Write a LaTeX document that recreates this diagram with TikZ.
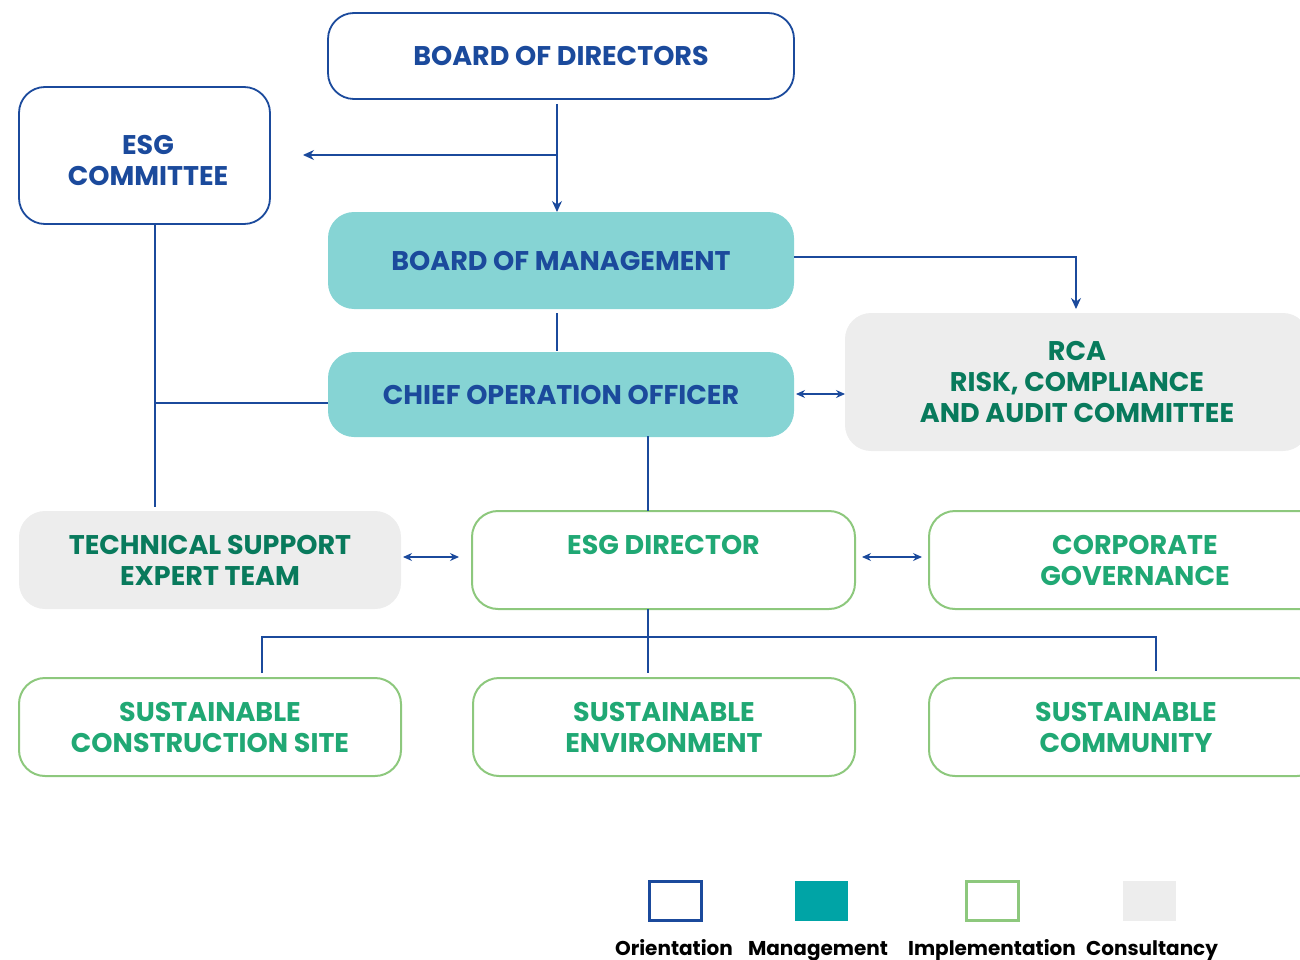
\documentclass[tikz,border=0pt]{standalone}
\usepackage{fontspec}
\setmainfont{Poppins}
\usetikzlibrary{arrows.meta}
\definecolor{dblue}{HTML}{1B4A9C}
\definecolor{tealfill}{HTML}{86D4D4}
\definecolor{greyfill}{HTML}{EDEDED}
\definecolor{dgreen}{HTML}{087A5C}
\definecolor{lgreen}{HTML}{20A874}
\definecolor{gborder}{HTML}{8DC87D}
\definecolor{mgmt}{HTML}{00A4A6}
\tikzset{
  base/.style={rounded corners=26pt, align=center, inner sep=0pt, font=\fontsize{27}{31}\selectfont\bfseries},
  orient/.style={base, draw=dblue, line width=1.8pt, text=dblue},
  manage/.style={base, fill=tealfill, text=dblue},
  consult/.style={base, fill=greyfill, text=dgreen},
  impl/.style={base, draw=gborder, line width=2pt, text=lgreen},
  conn/.style={dblue, line width=1.1pt},
  tip/.style={-{Stealth[length=11pt,width=10pt]}},
  dtip/.style={{Stealth[length=9pt,width=8pt]}-{Stealth[length=9pt,width=8pt]}},
  legtext/.style={font=\fontsize{20}{24}\selectfont\bfseries, text=black, anchor=base, inner sep=0pt}
}
\begin{document}
\begin{tikzpicture}[x=1pt,y=-1pt]
\useasboundingbox (0,0) rectangle (1300,960);
\clip (0,0) rectangle (1300,960);
% boxes
\node[orient, minimum width=466pt, minimum height=86pt] (bod) at (561,56) {BOARD OF DIRECTORS};
\node[orient, minimum width=251pt, minimum height=137pt] (esgc) at (144.5,155.5) {};
\node[base, text=dblue] (esgct) at (148,160) {ESG\\COMMITTEE};
\node[manage, minimum width=466pt, minimum height=97pt] (bom) at (561,260.5) {BOARD OF MANAGEMENT};
\node[manage, minimum width=466pt, minimum height=85pt] (coo) at (561,394.5) {CHIEF OPERATION OFFICER};
\node[consult, minimum width=464pt, minimum height=138pt] (rca) at (1077,382) {RCA\\RISK, COMPLIANCE\\AND AUDIT COMMITTEE};
\node[consult, minimum width=382pt, minimum height=98pt] (tech) at (210,560) {TECHNICAL SUPPORT\\EXPERT TEAM};
\node[impl, minimum width=383pt, minimum height=98pt] (esgd) at (663.5,560) {ESG DIRECTOR\\\mbox{}};
\node[impl, minimum width=412pt, minimum height=98pt] (cg) at (1135,560) {CORPORATE\\GOVERNANCE};
\node[impl, minimum width=382pt, minimum height=98pt] (scs) at (210,727) {SUSTAINABLE\\CONSTRUCTION SITE};
\node[impl, minimum width=382pt, minimum height=98pt] (se) at (664,727) {SUSTAINABLE\\ENVIRONMENT};
\node[impl, minimum width=394pt, minimum height=98pt] (sc) at (1126,727) {SUSTAINABLE\\COMMUNITY};
% coordinates
\coordinate (bodout) at (557,104);
\coordinate (esgarrow) at (303,155);
\coordinate (bomin) at (557,212);
\coordinate (rcain) at (1076,309);
\coordinate (esgcdown) at (155,507);
% connectors
\draw[conn, tip] (bodout) -- (bomin);
\draw[conn, tip] (557,155) -- (esgarrow);
\draw[conn, tip] (bom.east |- 0,257) -| (rcain);
\draw[conn] (557,313) -- (557,351);
\draw[conn, dtip] (796,394) -- (845,394);
\draw[conn] (155,224) -- (esgcdown);
\draw[conn] (155,403) -- (328,403);
\draw[conn] (648,436) -- (648,511);
\draw[conn, dtip] (403,557) -- (459,557);
\draw[conn, dtip] (862,557) -- (922,557);
\draw[conn] (648,609) -- (648,673);
\draw[conn] (262,673) -- (262,637) -- (1156,637) -- (1156,671);
% legend
\node[draw=dblue, line width=2.6pt, minimum width=52pt, minimum height=39pt, inner sep=0pt] (l1) at (675.5,901) {};
\node[fill=mgmt, minimum width=53pt, minimum height=40pt, inner sep=0pt] (l2) at (821,901) {};
\node[draw=gborder, line width=2.6pt, minimum width=52pt, minimum height=39pt, inner sep=0pt] (l3) at (992.5,901) {};
\node[fill=greyfill, minimum width=53pt, minimum height=40pt, inner sep=0pt] (l4) at (1149.5,901) {};
\node[legtext] (t1) at (674,955) {Orientation};
\node[legtext] (t2) at (818,955) {Management};
\node[legtext] (t3) at (992,955) {Implementation};
\node[legtext] (t4) at (1152,955) {Consultancy};
\end{tikzpicture}
\end{document}
